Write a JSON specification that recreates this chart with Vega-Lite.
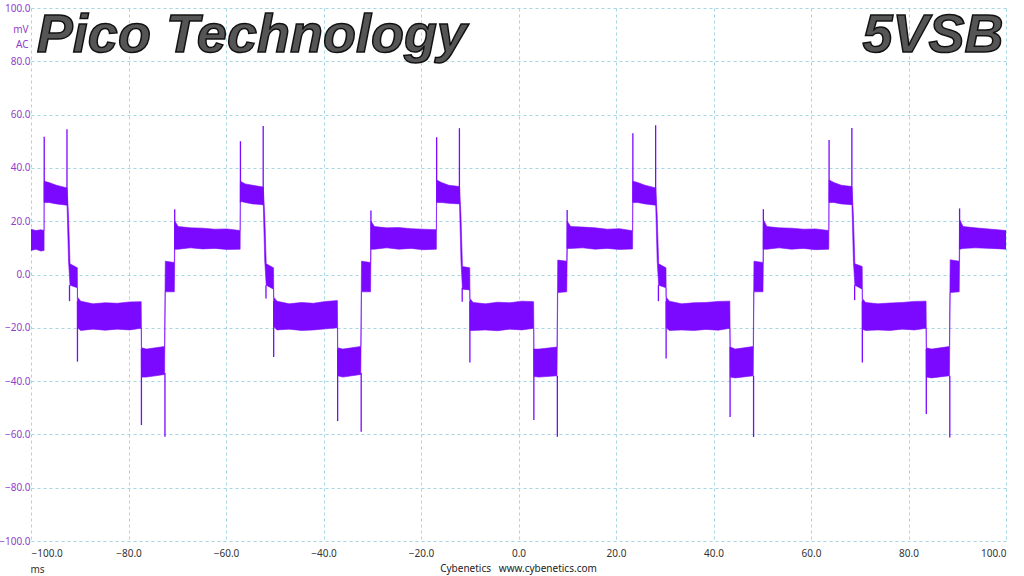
{
  "$schema": "https://vega.github.io/schema/vega-lite/v6.json",
  "width": 975,
  "height": 533,
  "autosize": {"type": "none"},
  "padding": {"left": 31, "top": 8, "right": 18, "bottom": 35},
  "background": "white",
  "config": {
    "view": {"stroke": null},
    "font": "Noto Sans"
  },
  "title": {
    "text": "Cybenetics\u00a0\u00a0 www.cybenetics.com",
    "orient": "bottom",
    "anchor": "middle",
    "fontSize": 10,
    "fontWeight": "normal",
    "font": "Noto Sans",
    "color": "#222222",
    "offset": -10
  },
  "datasets": {
    "band": [
      {"t": -100, "lo": 9, "hi": 17},
      {"t": -99, "lo": 9.5, "hi": 16.5},
      {"t": -98, "lo": 8.8, "hi": 16.8},
      {"t": -97.32, "lo": 9, "hi": 16.5},
      {"t": -97.3, "lo": 27, "hi": 35},
      {"t": -96.3, "lo": 27, "hi": 34.5},
      {"t": -94.8, "lo": 26.5, "hi": 33.5},
      {"t": -92.6, "lo": 26, "hi": 32.5},
      {"t": -92.3, "lo": 5, "hi": 22},
      {"t": -92.0, "lo": -4, "hi": 4},
      {"t": -90.5, "lo": -5, "hi": 2.5},
      {"t": -90.45, "lo": -20, "hi": -8.5},
      {"t": -89.8, "lo": -21, "hi": -10},
      {"t": -87.3, "lo": -20.5, "hi": -11},
      {"t": -84.8, "lo": -20.9, "hi": -10.6},
      {"t": -82.3, "lo": -20.5, "hi": -10.8},
      {"t": -79.8, "lo": -20.8, "hi": -10.3},
      {"t": -77.4, "lo": -20.2, "hi": -10.2},
      {"t": -77.32, "lo": -38.5, "hi": -27.5},
      {"t": -76.3, "lo": -38.5, "hi": -28},
      {"t": -72.6, "lo": -37.5, "hi": -27},
      {"t": -72.45, "lo": -6.5, "hi": 5},
      {"t": -70.6, "lo": -6.5, "hi": 4.5},
      {"t": -70.5, "lo": 9.5, "hi": 20},
      {"t": -69.8, "lo": 9.5, "hi": 18},
      {"t": -67.3, "lo": 10, "hi": 17.5},
      {"t": -64.8, "lo": 9.6, "hi": 17.4},
      {"t": -62.3, "lo": 9.8, "hi": 17},
      {"t": -59.8, "lo": 9.4, "hi": 17.1},
      {"t": -57.1, "lo": 9.5, "hi": 16.5},
      {"t": -57.05, "lo": 27.5, "hi": 35},
      {"t": -56.05, "lo": 27, "hi": 34},
      {"t": -54.55, "lo": 26.5, "hi": 33.5},
      {"t": -52.35, "lo": 26.2, "hi": 32.8},
      {"t": -52.05, "lo": 5, "hi": 22},
      {"t": -51.75, "lo": -4, "hi": 4},
      {"t": -50.25, "lo": -5.5, "hi": 2.5},
      {"t": -50.2, "lo": -19.5, "hi": -8.5},
      {"t": -49.55, "lo": -20.8, "hi": -10},
      {"t": -47.05, "lo": -20.5, "hi": -11},
      {"t": -44.55, "lo": -21, "hi": -10.5},
      {"t": -42.05, "lo": -20.8, "hi": -10.8},
      {"t": -39.55, "lo": -20.4, "hi": -10.1},
      {"t": -37.15, "lo": -20, "hi": -9.8},
      {"t": -37.07, "lo": -38, "hi": -27.5},
      {"t": -36.05, "lo": -38.5, "hi": -28},
      {"t": -32.35, "lo": -37.5, "hi": -27},
      {"t": -32.2, "lo": -6.5, "hi": 5},
      {"t": -30.35, "lo": -6.5, "hi": 4.5},
      {"t": -30.25, "lo": 9.5, "hi": 20},
      {"t": -29.55, "lo": 9.5, "hi": 18},
      {"t": -27.05, "lo": 10, "hi": 17.5},
      {"t": -24.55, "lo": 9.5, "hi": 17.6},
      {"t": -22.05, "lo": 9.8, "hi": 17.2},
      {"t": -19.55, "lo": 9.3, "hi": 17},
      {"t": -16.85, "lo": 9.5, "hi": 16.8},
      {"t": -16.8, "lo": 27, "hi": 35.5},
      {"t": -15.8, "lo": 27, "hi": 34.5},
      {"t": -14.3, "lo": 26.7, "hi": 33.5},
      {"t": -12.1, "lo": 26.5, "hi": 33},
      {"t": -11.8, "lo": 5, "hi": 22},
      {"t": -11.5, "lo": -5.5, "hi": 3},
      {"t": -10.0, "lo": -5.8, "hi": 2.5},
      {"t": -9.95, "lo": -21, "hi": -9},
      {"t": -9.3, "lo": -21, "hi": -10.5},
      {"t": -6.8, "lo": -20.8, "hi": -11},
      {"t": -4.3, "lo": -21.1, "hi": -10.4},
      {"t": -1.8, "lo": -20.5, "hi": -10.6},
      {"t": 0.7, "lo": -20.8, "hi": -10},
      {"t": 3.1, "lo": -20.2, "hi": -10.2},
      {"t": 3.18, "lo": -38.3, "hi": -28},
      {"t": 4.2, "lo": -38.5, "hi": -28},
      {"t": 7.9, "lo": -38, "hi": -27.2},
      {"t": 8.05, "lo": -6.8, "hi": 5.4},
      {"t": 9.9, "lo": -6.5, "hi": 5},
      {"t": 10.0, "lo": 9.8, "hi": 20},
      {"t": 10.7, "lo": 9.8, "hi": 18},
      {"t": 13.2, "lo": 10, "hi": 17.8},
      {"t": 15.7, "lo": 9.5, "hi": 17.5},
      {"t": 18.2, "lo": 9.8, "hi": 17},
      {"t": 20.7, "lo": 9.4, "hi": 17.2},
      {"t": 23.4, "lo": 9.6, "hi": 16.4},
      {"t": 23.45, "lo": 27, "hi": 35},
      {"t": 24.45, "lo": 27, "hi": 34.5},
      {"t": 25.95, "lo": 26.5, "hi": 33.5},
      {"t": 28.15, "lo": 26, "hi": 32.5},
      {"t": 28.45, "lo": 5, "hi": 22},
      {"t": 28.75, "lo": -4, "hi": 4},
      {"t": 30.25, "lo": -5, "hi": 2.5},
      {"t": 30.3, "lo": -20, "hi": -8.5},
      {"t": 30.95, "lo": -21, "hi": -10},
      {"t": 33.45, "lo": -20.8, "hi": -11},
      {"t": 35.95, "lo": -21, "hi": -10.6},
      {"t": 38.45, "lo": -20.6, "hi": -10.5},
      {"t": 40.95, "lo": -20.9, "hi": -10.1},
      {"t": 43.35, "lo": -20.2, "hi": -10},
      {"t": 43.43, "lo": -38.5, "hi": -27.2},
      {"t": 44.45, "lo": -38.8, "hi": -28},
      {"t": 48.15, "lo": -38, "hi": -27},
      {"t": 48.3, "lo": -6.5, "hi": 5},
      {"t": 50.15, "lo": -6.5, "hi": 4.5},
      {"t": 50.25, "lo": 9.5, "hi": 20.5},
      {"t": 50.95, "lo": 9.5, "hi": 18},
      {"t": 53.45, "lo": 10, "hi": 17.5},
      {"t": 55.95, "lo": 9.5, "hi": 17.4},
      {"t": 58.45, "lo": 9.8, "hi": 17},
      {"t": 60.95, "lo": 9.3, "hi": 17.1},
      {"t": 63.65, "lo": 9.5, "hi": 16.5},
      {"t": 63.7, "lo": 27, "hi": 35.5},
      {"t": 64.7, "lo": 27, "hi": 34.5},
      {"t": 66.2, "lo": 26.5, "hi": 33.5},
      {"t": 68.4, "lo": 26.2, "hi": 33},
      {"t": 68.7, "lo": 5, "hi": 22},
      {"t": 69.0, "lo": -4, "hi": 4},
      {"t": 70.5, "lo": -5.5, "hi": 3},
      {"t": 70.55, "lo": -20.5, "hi": -9},
      {"t": 71.2, "lo": -21, "hi": -10.5},
      {"t": 73.7, "lo": -20.8, "hi": -11},
      {"t": 76.2, "lo": -21, "hi": -10.7},
      {"t": 78.7, "lo": -20.5, "hi": -10.5},
      {"t": 81.2, "lo": -20.8, "hi": -10.1},
      {"t": 83.6, "lo": -20.2, "hi": -10},
      {"t": 83.68, "lo": -38.5, "hi": -27.5},
      {"t": 84.7, "lo": -38.8, "hi": -28},
      {"t": 88.4, "lo": -38, "hi": -27},
      {"t": 88.55, "lo": -6.8, "hi": 5.5},
      {"t": 90.4, "lo": -6.5, "hi": 5},
      {"t": 90.5, "lo": 9.5, "hi": 20.5},
      {"t": 91.2, "lo": 9.8, "hi": 18},
      {"t": 93.7, "lo": 10, "hi": 17.5},
      {"t": 97.0, "lo": 9.8, "hi": 17},
      {"t": 100, "lo": 9.5, "hi": 16.5}
    ],
    "spikes": [
      {"t": -97.29, "y1": 27, "y2": 51.7},
      {"t": -92.62, "y1": 26, "y2": 54.5},
      {"t": -92.1, "y1": -4, "y2": -10},
      {"t": -90.47, "y1": -10, "y2": -32.7},
      {"t": -77.35, "y1": -28, "y2": -56.5},
      {"t": -72.52, "y1": -37, "y2": -60.9},
      {"t": -70.52, "y1": 9.5, "y2": 24.5},
      {"t": -57.04, "y1": 27, "y2": 50},
      {"t": -52.37, "y1": 26, "y2": 55.7},
      {"t": -51.8, "y1": -4, "y2": -9},
      {"t": -50.22, "y1": -10, "y2": -31},
      {"t": -37.1, "y1": -28, "y2": -55},
      {"t": -32.27, "y1": -37, "y2": -59},
      {"t": -30.27, "y1": 9.5, "y2": 24},
      {"t": -16.79, "y1": 27, "y2": 51.5},
      {"t": -12.12, "y1": 26.5, "y2": 54.9},
      {"t": -11.55, "y1": -5, "y2": -10.2},
      {"t": -9.97, "y1": -10, "y2": -33},
      {"t": 3.15, "y1": -28, "y2": -54.6},
      {"t": 7.97, "y1": -38, "y2": -60.9},
      {"t": 9.98, "y1": 9.8, "y2": 24.2},
      {"t": 23.46, "y1": 27, "y2": 53},
      {"t": 28.13, "y1": 26, "y2": 56},
      {"t": 28.7, "y1": -4, "y2": -10},
      {"t": 30.28, "y1": -10, "y2": -31.5},
      {"t": 43.4, "y1": -27.2, "y2": -53.5},
      {"t": 48.22, "y1": -38, "y2": -61},
      {"t": 50.23, "y1": 9.5, "y2": 24.5},
      {"t": 63.71, "y1": 27, "y2": 50.5},
      {"t": 68.38, "y1": 26.2, "y2": 55},
      {"t": 68.95, "y1": -4, "y2": -9.6},
      {"t": 70.53, "y1": -10, "y2": -33},
      {"t": 83.65, "y1": -28, "y2": -52.3},
      {"t": 88.47, "y1": -38, "y2": -61.2},
      {"t": 90.48, "y1": 9.5, "y2": 24.8}
    ],
    "leftLabel": [{"name": "Pico Technology", "x": -98.8, "y": 83.5}],
    "rightLabel": [{"name": "5VSB", "x": 99.5, "y": 83.5}]
  },
  "layer": [
    {
      "data": {"name": "band"},
      "mark": {"type": "area", "color": "#7b08ff", "stroke": "#7b08ff", "strokeWidth": 0.6, "clip": true},
      "encoding": {
        "x": {
          "field": "t",
          "type": "quantitative",
          "scale": {"domain": [-100, 100], "nice": false, "zero": false},
          "axis": {
            "values": [-100, -80, -60, -40, -20, 0, 20, 40, 60, 80, 100],
            "format": ".1f",
            "grid": true,
            "gridColor": "#a6d5e3",
            "gridDash": [3, 3],
            "domain": false,
            "ticks": false,
            "labelColor": "#333333",
            "labelFont": "Noto Sans",
            "labelFontSize": 10,
            "labelPadding": 7,
            "title": "ms",
            "titleFont": "Noto Sans",
            "titleFontSize": 10,
            "titleFontWeight": "normal",
            "titleColor": "#333333",
            "titleX": 6,
            "titleY": 28,
            "titleAlign": "center",
            "titleBaseline": "middle"
          }
        },
        "y": {
          "field": "hi",
          "type": "quantitative",
          "scale": {"domain": [-100, 100], "nice": false, "zero": false},
          "axis": {
            "values": [-100, -80, -60, -40, -20, 0, 20, 40, 60, 80, 100],
            "format": ".1f",
            "grid": true,
            "gridColor": "#a6d5e3",
            "gridDash": [3, 3],
            "domain": false,
            "ticks": false,
            "labelColor": "#9040c8",
            "labelFont": "Noto Sans",
            "labelFontSize": 10,
            "labelPadding": 1,
            "title": ["mV", "AC"],
            "titleFont": "Noto Sans",
            "titleFontSize": 10,
            "titleFontWeight": "normal",
            "titleColor": "#9040c8",
            "titleAngle": 0,
            "titleAlign": "right",
            "titleBaseline": "middle",
            "titleLineHeight": 15,
            "titleX": -3,
            "titleY": 21.5
          }
        },
        "y2": {"field": "lo"}
      }
    },
    {
      "data": {"name": "spikes"},
      "mark": {"type": "rule", "color": "#7b08ff", "strokeWidth": 1.3, "clip": true},
      "encoding": {
        "x": {"field": "t", "type": "quantitative"},
        "y": {"field": "y1", "type": "quantitative"},
        "y2": {"field": "y2"}
      }
    },
    {
      "data": {"name": "leftLabel"},
      "mark": {
        "type": "text",
        "font": "Liberation Sans",
        "fontStyle": "italic",
        "fontWeight": "bold",
        "fontSize": 54,
        "align": "left",
        "baseline": "alphabetic",
        "color": "#555555",
        "stroke": "#111111",
        "strokeWidth": 1.5
      },
      "encoding": {
        "x": {"field": "x", "type": "quantitative"},
        "y": {"field": "y", "type": "quantitative"},
        "text": {"field": "name"}
      }
    },
    {
      "data": {"name": "rightLabel"},
      "mark": {
        "type": "text",
        "font": "Liberation Sans",
        "fontStyle": "italic",
        "fontWeight": "bold",
        "fontSize": 54,
        "align": "right",
        "baseline": "alphabetic",
        "color": "#555555",
        "stroke": "#111111",
        "strokeWidth": 1.5
      },
      "encoding": {
        "x": {"field": "x", "type": "quantitative"},
        "y": {"field": "y", "type": "quantitative"},
        "text": {"field": "name"}
      }
    }
  ]
}
